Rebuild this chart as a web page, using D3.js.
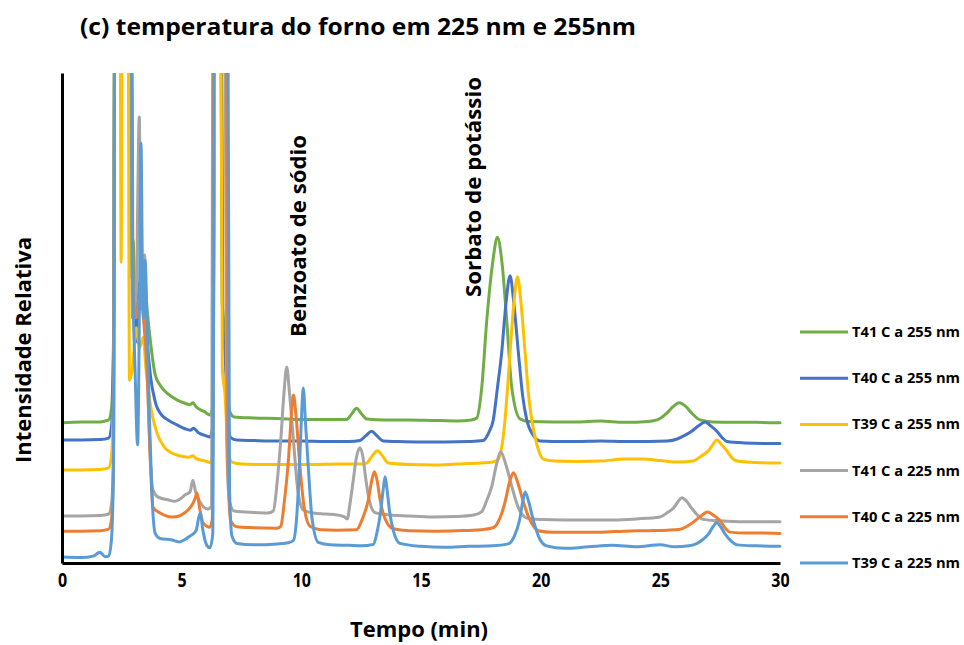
<!DOCTYPE html>
<html>
<head>
<meta charset="utf-8">
<script src="https://cdn.jsdelivr.net/npm/d3@7/dist/d3.min.js"></script>
<style>
  html, body { margin: 0; padding: 0; background: #ffffff; }
  svg { display: block; }
  text { font-family: "Open Sans", "Liberation Sans", sans-serif; font-weight: 700; fill: #000; }
</style>
</head>
<body>
<svg id="chart" width="964" height="645"></svg>
<script>
// ---------- DATA (time in min, relative intensity; >100 = off scale) ----------
const seriesNames = ["T41 C a 255 nm", "T40 C a 255 nm", "T39 C a 255 nm",
                     "T41 C a 225 nm", "T40 C a 225 nm", "T39 C a 225 nm"];
const xTicks = [0, 5, 10, 15, 20, 25, 30];
const titleText = "(c) temperatura do forno em 225 nm e 255nm";
const xLabel = "Tempo (min)";
const yLabel = "Intensidade Relativa";
const peakLabels = ["Benzoato de sódio", "Sorbato de potássio"];

const t41_255 = [
[0,28.6],[0.8,28.8],[1.6,28.8],[1.95,29.2],[2.07,31.5],[2.15,45],[2.22,130],[2.86,130],[2.92,58],[2.97,65.9],[3.03,56],[3.15,52],[3.3,56],[3.45,58],[3.55,52],[3.7,45],[3.89,38.5],[4.1,36.3],[4.43,34.5],[4.8,33.3],[5.14,32.6],[5.35,32.3],[5.47,32.7],[5.6,31.9],[5.98,30.8],[6.18,30.2],[6.3,32],[6.4,130],[6.62,130],[6.69,53.7],[6.78,48],[6.9,36],[7.02,30.8],[7.2,29.8],[8,29.6],[9,29.5],[10,29.3],[11,29.3],[11.9,29.3],[12.1,30.4],[12.31,31.6],[12.52,30.4],[12.73,29.4],[13.5,29.2],[14.5,29.2],[15.5,29.1],[16.5,29.0],[17.1,29.2],[17.33,29.6],[17.54,35.9],[17.75,49.6],[18.0,61.5],[18.19,66.5],[18.38,61.5],[18.58,49.6],[18.79,35.9],[19.14,29.4],[19.5,28.9],[20.5,28.8],[21.5,28.8],[22.5,29.0],[23.5,28.7],[24.5,28.9],[24.86,29.2],[25.27,30.6],[25.55,32.0],[25.8,32.7],[26.05,32.0],[26.31,30.6],[26.66,29.2],[27.2,28.8],[28,28.7],[29,28.7],[30,28.6]
];
const t40_255 = [
[0,25.1],[0.8,25.1],[1.6,25.2],[1.95,25.5],[2.07,28],[2.15,42],[2.22,130],[2.88,130],[2.95,50],[3.05,55],[3.15,45],[3.22,57],[3.3,52],[3.45,55],[3.55,46],[3.7,38],[3.89,33],[4.2,30],[4.43,29.2],[4.8,28.2],[5.14,27.4],[5.35,27.1],[5.5,27.5],[5.7,26.6],[6.0,26],[6.18,25.7],[6.3,28],[6.4,130],[6.65,130],[6.72,47.6],[6.82,42],[6.92,30],[7.05,25.6],[7.3,25.1],[8,25.0],[9,24.9],[10,24.9],[11,24.8],[12,24.8],[12.45,25.0],[12.7,26.0],[12.94,26.9],[13.15,26.0],[13.43,24.9],[14,24.8],[15,24.7],[16,24.7],[17,24.8],[17.6,25.0],[17.85,26.8],[18.02,29.2],[18.2,36],[18.37,42.9],[18.55,53],[18.72,58.6],[18.88,53],[19.07,42.9],[19.25,34],[19.42,29.2],[19.7,26],[19.97,24.9],[20.5,24.8],[21.5,24.8],[22.5,24.9],[23.5,24.8],[24.5,24.8],[25.3,24.9],[25.7,25.3],[26.0,26.0],[26.31,26.9],[26.6,28.0],[26.87,28.8],[27.1,28.0],[27.36,26.9],[27.6,25.5],[27.79,24.8],[28.5,24.5],[29.3,24.4],[30,24.4]
];
const t39_255 = [
[0,19.0],[0.8,19.0],[1.6,19.1],[1.95,19.4],[2.07,22],[2.15,35],[2.2,130],[2.42,130],[2.47,61.4],[2.53,130],[2.75,130],[2.82,37.3],[2.95,40],[3.1,48],[3.25,44],[3.4,46.1],[3.5,40],[3.7,32],[3.97,26.5],[4.3,23.5],[4.6,22.4],[5.0,21.8],[5.3,21.6],[5.47,21.9],[5.6,21.3],[6.0,20.8],[6.18,20.5],[6.3,22],[6.42,130],[6.62,130],[6.7,39.4],[6.8,35],[6.95,22.5],[7.1,20.6],[7.5,20.2],[8.5,20.1],[9.5,20.1],[10.5,20.1],[11.5,20.2],[12.5,20.2],[12.73,20.4],[12.95,21.8],[13.18,22.9],[13.4,21.8],[13.64,20.4],[14.5,20.1],[15.5,20.0],[16.5,20.2],[17.5,20.4],[18.0,20.6],[18.23,21.2],[18.4,24.5],[18.51,29.2],[18.62,36],[18.72,42.9],[18.88,53],[19.03,58.4],[19.18,53],[19.35,42.9],[19.5,34],[19.63,29.2],[19.85,24],[20.11,21.2],[20.6,20.8],[21.5,20.7],[22.5,20.8],[23.5,21.2],[24.3,21.2],[25.0,20.9],[25.8,20.6],[26.37,20.8],[26.7,21.8],[27.01,22.9],[27.2,24.2],[27.36,25.1],[27.55,24.2],[27.78,22.9],[28.0,21.4],[28.21,20.8],[29,20.5],[30,20.4]
];
const t41_225 = [
[0,9.6],[0.8,9.6],[1.6,9.7],[1.95,10.0],[2.07,12],[2.15,22],[2.22,130],[2.88,130],[2.95,50],[3.1,55],[3.23,91.0],[3.3,55],[3.38,58],[3.45,62.9],[3.52,50],[3.62,30],[3.8,14.9],[4.0,13.5],[4.43,12.9],[4.7,12.6],[5.0,13.3],[5.14,13.9],[5.35,14.5],[5.47,16.9],[5.58,14.5],[5.8,12.2],[6.1,11.0],[6.24,11.5],[6.32,130],[6.8,130],[6.88,25],[7.0,12.5],[7.2,10.6],[8,10.3],[8.6,10.2],[8.83,10.6],[8.98,16],[9.14,25.1],[9.28,35],[9.39,40.0],[9.5,35],[9.67,25.1],[9.85,15],[10.08,10.8],[10.5,10.2],[11,10.0],[11.5,9.8],[11.8,9.4],[11.92,9.0],[12.03,12],[12.17,16.9],[12.3,21.5],[12.45,23.5],[12.58,21.5],[12.7,16.9],[12.88,12],[13.08,10.3],[13.5,9.9],[14.5,9.6],[15.5,9.4],[16.5,9.5],[17.2,9.8],[17.54,10.5],[17.75,12.8],[17.96,15.7],[18.15,20],[18.33,22.7],[18.55,20],[18.79,15.7],[19.05,11.5],[19.42,9.2],[20,8.9],[21,8.8],[22,8.8],[23,8.8],[24,9.0],[24.99,9.4],[25.3,10.3],[25.55,11.2],[25.75,12.6],[25.9,13.3],[26.1,12.6],[26.31,11.2],[26.55,9.8],[26.79,8.9],[27.5,8.6],[28.5,8.4],[29.3,8.4],[30,8.4]
];
const t40_225 = [
[0,6.5],[0.8,6.5],[1.6,6.6],[1.95,6.9],[2.07,9],[2.15,20],[2.22,130],[2.9,130],[2.97,55],[3.1,50],[3.25,55],[3.4,50],[3.55,40],[3.7,20],[3.8,11.4],[4.1,10.2],[4.6,9.4],[4.9,9.6],[5.14,10.3],[5.4,11.6],[5.55,13],[5.64,14.3],[5.75,11.2],[5.9,8.2],[6.18,7.3],[6.28,9],[6.35,130],[6.85,130],[6.93,20],[7.05,8.6],[7.3,7.4],[8,7.2],[9.0,7.1],[9.14,7.5],[9.3,13],[9.46,21.0],[9.58,30],[9.67,34.3],[9.78,30],[9.92,21.0],[10.1,12],[10.36,7.5],[10.8,6.8],[11.5,6.7],[12.31,6.8],[12.55,9],[12.8,12.9],[12.95,17],[13.05,18.6],[13.16,17],[13.29,12.9],[13.5,9],[13.84,7.0],[14.5,6.6],[15.5,6.5],[16.5,6.6],[17.5,6.8],[18.02,7.2],[18.3,9.2],[18.51,12.4],[18.7,16.5],[18.86,18.4],[19.05,16.3],[19.28,12.4],[19.55,8.8],[19.9,6.6],[20.5,6.3],[21.5,6.3],[22.5,6.3],[23.5,6.5],[24.5,6.6],[25.3,6.7],[25.83,6.9],[26.15,7.6],[26.45,8.6],[26.75,9.8],[26.97,10.4],[27.2,9.8],[27.5,8.6],[27.7,7.2],[27.92,6.3],[28.6,6.1],[29.3,6.1],[30,6.0]
];
const t39_225 = [
[0,1.2],[0.8,1.1],[1.3,1.4],[1.59,2.2],[1.8,1.3],[1.95,1.4],[2.07,5],[2.15,20],[2.2,130],[2.88,130],[2.95,60],[3.05,40],[3.16,24.1],[3.25,60],[3.3,85.7],[3.36,60],[3.42,50],[3.47,61.8],[3.55,50],[3.65,30],[3.75,15],[3.89,6.1],[4.1,5.0],[4.6,4.7],[4.9,4.3],[5.1,4.7],[5.35,5.5],[5.6,6.6],[5.77,10.2],[5.9,6.3],[6.05,3.6],[6.18,3.1],[6.3,6],[6.38,130],[6.92,130],[7.0,15],[7.1,5.5],[7.3,4.0],[8,3.7],[9,3.9],[9.5,4.2],[9.67,4.6],[9.8,9],[9.92,19.6],[10.0,29],[10.08,35.7],[10.17,29],[10.29,19.6],[10.45,9],[10.71,4.2],[11.2,3.7],[12,3.6],[12.5,3.5],[13.01,3.8],[13.15,6],[13.32,10.8],[13.42,15],[13.5,17.6],[13.58,15],[13.68,10.8],[13.85,6.5],[14.12,4.0],[15,3.4],[16,3.2],[17,3.4],[18,3.5],[18.65,3.9],[18.9,5.5],[19.11,8.6],[19.25,12.5],[19.35,14.5],[19.5,12.5],[19.7,8.6],[19.95,5],[20.25,3.5],[21,3.0],[22,3.3],[23,3.6],[24,3.3],[25,3.7],[25.6,3.3],[26.2,3.5],[26.54,4.0],[26.8,4.9],[27.01,5.9],[27.2,7.4],[27.36,8.2],[27.52,7.4],[27.71,5.9],[27.95,4.5],[28.21,3.7],[29,3.5],[30,3.4]
];
const seriesData = [t41_255, t40_255, t39_255, t41_225, t40_225, t39_225];
const seriesColors = ["#70AD47", "#4472C4", "#FFC000", "#A5A5A5", "#ED7D31", "#5B9BD5"];

// ---------- LAYOUT ----------
const svg = d3.select("#chart");
const plot = { left: 62, right: 780, top: 73, bottom: 563 };
const x = d3.scaleLinear().domain([0, 30]).range([plot.left, plot.right]);
const y = d3.scaleLinear().domain([0, 100]).range([plot.bottom, plot.top]);

svg.append("defs").append("clipPath").attr("id", "clip")
  .append("rect").attr("x", plot.left).attr("y", plot.top)
  .attr("width", plot.right - plot.left + 4).attr("height", plot.bottom - plot.top);

const line = d3.line().x(d => x(d[0])).y(d => y(d[1])).curve(d3.curveMonotoneX);

const lines = svg.append("g").attr("clip-path", "url(#clip)");
seriesData.forEach((s, i) => {
  lines.append("path").datum(s)
    .attr("d", line)
    .attr("fill", "none")
    .attr("stroke", seriesColors[i])
    .attr("stroke-width", 3)
    .attr("stroke-linejoin", "round")
    .attr("stroke-linecap", "round");
});

// axes
const xAxis = svg.append("g").attr("transform", `translate(0,${plot.bottom})`)
  .call(d3.axisBottom(x).tickValues(xTicks).tickSize(0).tickSizeOuter(0).tickPadding(10));
xAxis.select(".domain").attr("stroke", "#000").attr("stroke-width", 3);
xAxis.selectAll(".tick text")
  .style("font-family", '"Open Sans", sans-serif').style("font-weight", 700)
  .style("font-size", "20px").attr("fill", "#000")
  .attr("transform", "scale(0.8,1)");

const yAxis = svg.append("g").attr("transform", `translate(${plot.left},0)`)
  .call(d3.axisLeft(y).tickValues([]).tickSize(0).tickSizeOuter(0));
yAxis.select(".domain").attr("stroke", "#000").attr("stroke-width", 3);

function fitText(sel, width) {
  sel.attr("textLength", width).attr("lengthAdjust", "spacingAndGlyphs");
  return sel;
}

// title
fitText(svg.append("text").attr("x", 80).attr("y", 35)
  .style("font-size", "24px").text(titleText), 556);

// x label
fitText(svg.append("text").attr("x", 350).attr("y", 637)
  .style("font-size", "21px").text(xLabel), 138);

// y label
fitText(svg.append("text")
  .attr("transform", "translate(31,463) rotate(-90)")
  .style("font-size", "21px").text(yLabel), 226);

// peak annotations
fitText(svg.append("text")
  .attr("transform", "translate(306,337) rotate(-90)")
  .style("font-size", "22px").text(peakLabels[0]), 202);
fitText(svg.append("text")
  .attr("transform", "translate(481,297) rotate(-90)")
  .style("font-size", "22px").text(peakLabels[1]), 220);

// legend
const legendTop = 332, legendStep = 46.2;
const legend = svg.append("g");
seriesNames.forEach((name, i) => {
  const ly = legendTop + i * legendStep;
  legend.append("line").attr("x1", 800).attr("x2", 848).attr("y1", ly).attr("y2", ly)
    .attr("stroke", seriesColors[i]).attr("stroke-width", 3);
  fitText(legend.append("text").attr("x", 852).attr("y", ly + 5)
    .style("font-size", "14px").text(name), 108);
});
</script>
</body>
</html>
